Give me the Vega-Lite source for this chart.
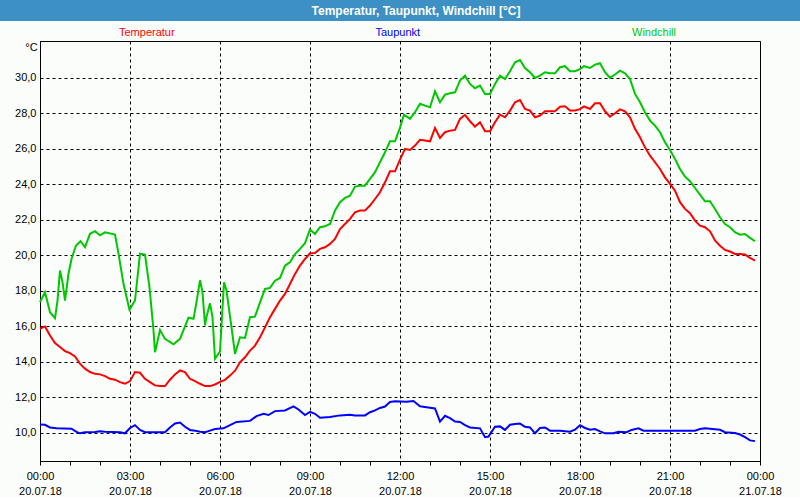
{
  "$schema": "https://vega.github.io/schema/vega-lite/v6.json",
  "padding": 0,
  "background": "#fbfdfb",
  "spacing": 19,
  "config": {"view": {"stroke": null}, "font": "Liberation Sans"},
  "datasets": {
    "wetter": [
      {"t":"2018-07-20T00:00","s":"Temperatur","v":15.87},{"t":"2018-07-20T00:10","s":"Temperatur","v":16.0},{"t":"2018-07-20T00:20","s":"Temperatur","v":15.49},{"t":"2018-07-20T00:30","s":"Temperatur","v":15.06},{"t":"2018-07-20T00:40","s":"Temperatur","v":14.84},{"t":"2018-07-20T00:50","s":"Temperatur","v":14.61},{"t":"2018-07-20T01:00","s":"Temperatur","v":14.5},{"t":"2018-07-20T01:10","s":"Temperatur","v":14.31},{"t":"2018-07-20T01:20","s":"Temperatur","v":13.9},{"t":"2018-07-20T01:30","s":"Temperatur","v":13.62},{"t":"2018-07-20T01:40","s":"Temperatur","v":13.43},{"t":"2018-07-20T01:50","s":"Temperatur","v":13.33},{"t":"2018-07-20T02:00","s":"Temperatur","v":13.3},{"t":"2018-07-20T02:10","s":"Temperatur","v":13.2},{"t":"2018-07-20T02:20","s":"Temperatur","v":13.05},{"t":"2018-07-20T02:30","s":"Temperatur","v":13.0},{"t":"2018-07-20T02:40","s":"Temperatur","v":12.86},{"t":"2018-07-20T02:50","s":"Temperatur","v":12.77},{"t":"2018-07-20T03:00","s":"Temperatur","v":12.92},{"t":"2018-07-20T03:10","s":"Temperatur","v":13.43},{"t":"2018-07-20T03:20","s":"Temperatur","v":13.39},{"t":"2018-07-20T03:30","s":"Temperatur","v":13.05},{"t":"2018-07-20T03:40","s":"Temperatur","v":12.86},{"t":"2018-07-20T03:50","s":"Temperatur","v":12.68},{"t":"2018-07-20T04:00","s":"Temperatur","v":12.64},{"t":"2018-07-20T04:10","s":"Temperatur","v":12.64},{"t":"2018-07-20T04:20","s":"Temperatur","v":13.0},{"t":"2018-07-20T04:30","s":"Temperatur","v":13.3},{"t":"2018-07-20T04:40","s":"Temperatur","v":13.52},{"t":"2018-07-20T04:50","s":"Temperatur","v":13.43},{"t":"2018-07-20T05:00","s":"Temperatur","v":13.05},{"t":"2018-07-20T05:10","s":"Temperatur","v":12.92},{"t":"2018-07-20T05:20","s":"Temperatur","v":12.77},{"t":"2018-07-20T05:30","s":"Temperatur","v":12.64},{"t":"2018-07-20T05:40","s":"Temperatur","v":12.64},{"t":"2018-07-20T05:50","s":"Temperatur","v":12.73},{"t":"2018-07-20T06:00","s":"Temperatur","v":12.88},{"t":"2018-07-20T06:10","s":"Temperatur","v":12.99},{"t":"2018-07-20T06:20","s":"Temperatur","v":13.23},{"t":"2018-07-20T06:30","s":"Temperatur","v":13.51},{"t":"2018-07-20T06:40","s":"Temperatur","v":13.98},{"t":"2018-07-20T06:50","s":"Temperatur","v":14.26},{"t":"2018-07-20T07:00","s":"Temperatur","v":14.64},{"t":"2018-07-20T07:10","s":"Temperatur","v":14.92},{"t":"2018-07-20T07:20","s":"Temperatur","v":15.39},{"t":"2018-07-20T07:30","s":"Temperatur","v":15.95},{"t":"2018-07-20T07:40","s":"Temperatur","v":16.52},{"t":"2018-07-20T07:50","s":"Temperatur","v":16.99},{"t":"2018-07-20T08:00","s":"Temperatur","v":17.46},{"t":"2018-07-20T08:10","s":"Temperatur","v":17.83},{"t":"2018-07-20T08:20","s":"Temperatur","v":18.39},{"t":"2018-07-20T08:30","s":"Temperatur","v":18.96},{"t":"2018-07-20T08:40","s":"Temperatur","v":19.43},{"t":"2018-07-20T08:50","s":"Temperatur","v":19.8},{"t":"2018-07-20T09:00","s":"Temperatur","v":20.12},{"t":"2018-07-20T09:10","s":"Temperatur","v":20.14},{"t":"2018-07-20T09:20","s":"Temperatur","v":20.37},{"t":"2018-07-20T09:30","s":"Temperatur","v":20.46},{"t":"2018-07-20T09:40","s":"Temperatur","v":20.65},{"t":"2018-07-20T09:50","s":"Temperatur","v":20.93},{"t":"2018-07-20T10:00","s":"Temperatur","v":21.49},{"t":"2018-07-20T10:10","s":"Temperatur","v":21.77},{"t":"2018-07-20T10:20","s":"Temperatur","v":22.06},{"t":"2018-07-20T10:30","s":"Temperatur","v":22.43},{"t":"2018-07-20T10:40","s":"Temperatur","v":22.53},{"t":"2018-07-20T10:50","s":"Temperatur","v":22.53},{"t":"2018-07-20T11:00","s":"Temperatur","v":22.81},{"t":"2018-07-20T11:10","s":"Temperatur","v":23.18},{"t":"2018-07-20T11:20","s":"Temperatur","v":23.56},{"t":"2018-07-20T11:30","s":"Temperatur","v":24.12},{"t":"2018-07-20T11:40","s":"Temperatur","v":24.74},{"t":"2018-07-20T11:50","s":"Temperatur","v":24.74},{"t":"2018-07-20T12:00","s":"Temperatur","v":25.4},{"t":"2018-07-20T12:10","s":"Temperatur","v":26.0},{"t":"2018-07-20T12:20","s":"Temperatur","v":25.94},{"t":"2018-07-20T12:30","s":"Temperatur","v":26.19},{"t":"2018-07-20T12:40","s":"Temperatur","v":26.51},{"t":"2018-07-20T12:50","s":"Temperatur","v":26.47},{"t":"2018-07-20T13:00","s":"Temperatur","v":26.43},{"t":"2018-07-20T13:10","s":"Temperatur","v":27.18},{"t":"2018-07-20T13:20","s":"Temperatur","v":26.62},{"t":"2018-07-20T13:30","s":"Temperatur","v":26.94},{"t":"2018-07-20T13:40","s":"Temperatur","v":27.03},{"t":"2018-07-20T13:50","s":"Temperatur","v":27.07},{"t":"2018-07-20T14:00","s":"Temperatur","v":27.69},{"t":"2018-07-20T14:10","s":"Temperatur","v":27.92},{"t":"2018-07-20T14:20","s":"Temperatur","v":27.56},{"t":"2018-07-20T14:30","s":"Temperatur","v":27.26},{"t":"2018-07-20T14:40","s":"Temperatur","v":27.5},{"t":"2018-07-20T14:50","s":"Temperatur","v":27.0},{"t":"2018-07-20T15:00","s":"Temperatur","v":27.0},{"t":"2018-07-20T15:10","s":"Temperatur","v":27.5},{"t":"2018-07-20T15:20","s":"Temperatur","v":27.93},{"t":"2018-07-20T15:30","s":"Temperatur","v":27.78},{"t":"2018-07-20T15:40","s":"Temperatur","v":28.16},{"t":"2018-07-20T15:50","s":"Temperatur","v":28.63},{"t":"2018-07-20T16:00","s":"Temperatur","v":28.76},{"t":"2018-07-20T16:10","s":"Temperatur","v":28.25},{"t":"2018-07-20T16:20","s":"Temperatur","v":28.16},{"t":"2018-07-20T16:30","s":"Temperatur","v":27.78},{"t":"2018-07-20T16:40","s":"Temperatur","v":27.88},{"t":"2018-07-20T16:50","s":"Temperatur","v":28.12},{"t":"2018-07-20T17:00","s":"Temperatur","v":28.12},{"t":"2018-07-20T17:10","s":"Temperatur","v":28.12},{"t":"2018-07-20T17:20","s":"Temperatur","v":28.38},{"t":"2018-07-20T17:30","s":"Temperatur","v":28.4},{"t":"2018-07-20T17:40","s":"Temperatur","v":28.16},{"t":"2018-07-20T17:50","s":"Temperatur","v":28.16},{"t":"2018-07-20T18:00","s":"Temperatur","v":28.24},{"t":"2018-07-20T18:08","s":"Temperatur","v":28.4},{"t":"2018-07-20T18:20","s":"Temperatur","v":28.25},{"t":"2018-07-20T18:30","s":"Temperatur","v":28.57},{"t":"2018-07-20T18:40","s":"Temperatur","v":28.57},{"t":"2018-07-20T18:50","s":"Temperatur","v":28.12},{"t":"2018-07-20T19:00","s":"Temperatur","v":27.82},{"t":"2018-07-20T19:10","s":"Temperatur","v":28.01},{"t":"2018-07-20T19:20","s":"Temperatur","v":28.23},{"t":"2018-07-20T19:30","s":"Temperatur","v":28.12},{"t":"2018-07-20T19:40","s":"Temperatur","v":27.78},{"t":"2018-07-20T19:50","s":"Temperatur","v":27.13},{"t":"2018-07-20T20:00","s":"Temperatur","v":26.66},{"t":"2018-07-20T20:10","s":"Temperatur","v":26.09},{"t":"2018-07-20T20:20","s":"Temperatur","v":25.62},{"t":"2018-07-20T20:30","s":"Temperatur","v":25.25},{"t":"2018-07-20T20:40","s":"Temperatur","v":24.87},{"t":"2018-07-20T20:50","s":"Temperatur","v":24.4},{"t":"2018-07-20T21:00","s":"Temperatur","v":24.03},{"t":"2018-07-20T21:10","s":"Temperatur","v":23.65},{"t":"2018-07-20T21:20","s":"Temperatur","v":23.0},{"t":"2018-07-20T21:30","s":"Temperatur","v":22.62},{"t":"2018-07-20T21:40","s":"Temperatur","v":22.38},{"t":"2018-07-20T21:50","s":"Temperatur","v":21.96},{"t":"2018-07-20T22:00","s":"Temperatur","v":21.68},{"t":"2018-07-20T22:10","s":"Temperatur","v":21.59},{"t":"2018-07-20T22:20","s":"Temperatur","v":21.36},{"t":"2018-07-20T22:30","s":"Temperatur","v":20.84},{"t":"2018-07-20T22:40","s":"Temperatur","v":20.55},{"t":"2018-07-20T22:50","s":"Temperatur","v":20.31},{"t":"2018-07-20T23:00","s":"Temperatur","v":20.22},{"t":"2018-07-20T23:10","s":"Temperatur","v":20.08},{"t":"2018-07-20T23:20","s":"Temperatur","v":20.08},{"t":"2018-07-20T23:30","s":"Temperatur","v":20.05},{"t":"2018-07-20T23:40","s":"Temperatur","v":19.86},{"t":"2018-07-20T23:50","s":"Temperatur","v":19.71},
      {"t":"2018-07-20T00:00","s":"Windchill","v":17.37},{"t":"2018-07-20T00:10","s":"Windchill","v":17.93},{"t":"2018-07-20T00:20","s":"Windchill","v":16.8},{"t":"2018-07-20T00:30","s":"Windchill","v":16.47},{"t":"2018-07-20T00:35","s":"Windchill","v":17.46},{"t":"2018-07-20T00:40","s":"Windchill","v":19.15},{"t":"2018-07-20T00:45","s":"Windchill","v":18.5},{"t":"2018-07-20T00:50","s":"Windchill","v":17.46},{"t":"2018-07-20T00:57","s":"Windchill","v":18.97},{"t":"2018-07-20T01:03","s":"Windchill","v":19.8},{"t":"2018-07-20T01:12","s":"Windchill","v":20.56},{"t":"2018-07-20T01:21","s":"Windchill","v":20.8},{"t":"2018-07-20T01:30","s":"Windchill","v":20.47},{"t":"2018-07-20T01:40","s":"Windchill","v":21.22},{"t":"2018-07-20T01:50","s":"Windchill","v":21.37},{"t":"2018-07-20T02:00","s":"Windchill","v":21.13},{"t":"2018-07-20T02:10","s":"Windchill","v":21.3},{"t":"2018-07-20T02:30","s":"Windchill","v":21.18},{"t":"2018-07-20T02:37","s":"Windchill","v":20.1},{"t":"2018-07-20T02:47","s":"Windchill","v":18.4},{"t":"2018-07-20T02:59","s":"Windchill","v":16.94},{"t":"2018-07-20T03:10","s":"Windchill","v":17.46},{"t":"2018-07-20T03:20","s":"Windchill","v":20.1},{"t":"2018-07-20T03:30","s":"Windchill","v":20.05},{"t":"2018-07-20T03:39","s":"Windchill","v":18.2},{"t":"2018-07-20T03:47","s":"Windchill","v":15.77},{"t":"2018-07-20T03:50","s":"Windchill","v":14.55},{"t":"2018-07-20T04:00","s":"Windchill","v":15.8},{"t":"2018-07-20T04:10","s":"Windchill","v":15.3},{"t":"2018-07-20T04:27","s":"Windchill","v":14.99},{"t":"2018-07-20T04:40","s":"Windchill","v":15.3},{"t":"2018-07-20T04:57","s":"Windchill","v":16.49},{"t":"2018-07-20T05:07","s":"Windchill","v":16.43},{"t":"2018-07-20T05:13","s":"Windchill","v":17.37},{"t":"2018-07-20T05:20","s":"Windchill","v":18.6},{"t":"2018-07-20T05:25","s":"Windchill","v":17.93},{"t":"2018-07-20T05:30","s":"Windchill","v":16.06},{"t":"2018-07-20T05:33","s":"Windchill","v":16.53},{"t":"2018-07-20T05:40","s":"Windchill","v":17.3},{"t":"2018-07-20T05:45","s":"Windchill","v":16.53},{"t":"2018-07-20T05:50","s":"Windchill","v":14.18},{"t":"2018-07-20T06:00","s":"Windchill","v":14.6},{"t":"2018-07-20T06:08","s":"Windchill","v":18.49},{"t":"2018-07-20T06:13","s":"Windchill","v":18.02},{"t":"2018-07-20T06:23","s":"Windchill","v":15.95},{"t":"2018-07-20T06:30","s":"Windchill","v":14.45},{"t":"2018-07-20T06:40","s":"Windchill","v":15.39},{"t":"2018-07-20T06:50","s":"Windchill","v":15.35},{"t":"2018-07-20T07:00","s":"Windchill","v":16.52},{"t":"2018-07-20T07:10","s":"Windchill","v":16.55},{"t":"2018-07-20T07:20","s":"Windchill","v":17.36},{"t":"2018-07-20T07:30","s":"Windchill","v":18.11},{"t":"2018-07-20T07:40","s":"Windchill","v":18.17},{"t":"2018-07-20T07:50","s":"Windchill","v":18.58},{"t":"2018-07-20T08:00","s":"Windchill","v":18.73},{"t":"2018-07-20T08:10","s":"Windchill","v":19.43},{"t":"2018-07-20T08:20","s":"Windchill","v":19.62},{"t":"2018-07-20T08:30","s":"Windchill","v":20.08},{"t":"2018-07-20T08:40","s":"Windchill","v":20.37},{"t":"2018-07-20T08:50","s":"Windchill","v":20.69},{"t":"2018-07-20T09:00","s":"Windchill","v":21.46},{"t":"2018-07-20T09:10","s":"Windchill","v":21.21},{"t":"2018-07-20T09:20","s":"Windchill","v":21.59},{"t":"2018-07-20T09:30","s":"Windchill","v":21.64},{"t":"2018-07-20T09:40","s":"Windchill","v":21.77},{"t":"2018-07-20T09:50","s":"Windchill","v":22.53},{"t":"2018-07-20T10:00","s":"Windchill","v":23.0},{"t":"2018-07-20T10:10","s":"Windchill","v":23.24},{"t":"2018-07-20T10:20","s":"Windchill","v":23.37},{"t":"2018-07-20T10:30","s":"Windchill","v":23.88},{"t":"2018-07-20T10:40","s":"Windchill","v":23.93},{"t":"2018-07-20T10:50","s":"Windchill","v":23.93},{"t":"2018-07-20T11:00","s":"Windchill","v":24.31},{"t":"2018-07-20T11:10","s":"Windchill","v":24.69},{"t":"2018-07-20T11:20","s":"Windchill","v":25.25},{"t":"2018-07-20T11:30","s":"Windchill","v":25.81},{"t":"2018-07-20T11:40","s":"Windchill","v":26.43},{"t":"2018-07-20T11:50","s":"Windchill","v":26.43},{"t":"2018-07-20T12:00","s":"Windchill","v":27.2},{"t":"2018-07-20T12:08","s":"Windchill","v":27.93},{"t":"2018-07-20T12:20","s":"Windchill","v":27.69},{"t":"2018-07-20T12:30","s":"Windchill","v":28.07},{"t":"2018-07-20T12:40","s":"Windchill","v":28.54},{"t":"2018-07-20T12:50","s":"Windchill","v":28.44},{"t":"2018-07-20T13:00","s":"Windchill","v":28.35},{"t":"2018-07-20T13:10","s":"Windchill","v":29.25},{"t":"2018-07-20T13:20","s":"Windchill","v":28.63},{"t":"2018-07-20T13:30","s":"Windchill","v":29.06},{"t":"2018-07-20T13:40","s":"Windchill","v":29.14},{"t":"2018-07-20T13:50","s":"Windchill","v":29.19},{"t":"2018-07-20T14:00","s":"Windchill","v":29.85},{"t":"2018-07-20T14:10","s":"Windchill","v":30.13},{"t":"2018-07-20T14:20","s":"Windchill","v":29.66},{"t":"2018-07-20T14:30","s":"Windchill","v":29.42},{"t":"2018-07-20T14:40","s":"Windchill","v":29.57},{"t":"2018-07-20T14:50","s":"Windchill","v":29.1},{"t":"2018-07-20T15:00","s":"Windchill","v":29.1},{"t":"2018-07-20T15:10","s":"Windchill","v":29.66},{"t":"2018-07-20T15:20","s":"Windchill","v":30.13},{"t":"2018-07-20T15:30","s":"Windchill","v":29.94},{"t":"2018-07-20T15:40","s":"Windchill","v":30.38},{"t":"2018-07-20T15:50","s":"Windchill","v":30.88},{"t":"2018-07-20T16:00","s":"Windchill","v":31.01},{"t":"2018-07-20T16:10","s":"Windchill","v":30.56},{"t":"2018-07-20T16:20","s":"Windchill","v":30.32},{"t":"2018-07-20T16:30","s":"Windchill","v":30.0},{"t":"2018-07-20T16:40","s":"Windchill","v":30.13},{"t":"2018-07-20T16:50","s":"Windchill","v":30.32},{"t":"2018-07-20T17:00","s":"Windchill","v":30.26},{"t":"2018-07-20T17:10","s":"Windchill","v":30.26},{"t":"2018-07-20T17:20","s":"Windchill","v":30.6},{"t":"2018-07-20T17:30","s":"Windchill","v":30.66},{"t":"2018-07-20T17:40","s":"Windchill","v":30.38},{"t":"2018-07-20T17:50","s":"Windchill","v":30.38},{"t":"2018-07-20T18:00","s":"Windchill","v":30.5},{"t":"2018-07-20T18:08","s":"Windchill","v":30.66},{"t":"2018-07-20T18:20","s":"Windchill","v":30.56},{"t":"2018-07-20T18:30","s":"Windchill","v":30.75},{"t":"2018-07-20T18:40","s":"Windchill","v":30.83},{"t":"2018-07-20T18:50","s":"Windchill","v":30.32},{"t":"2018-07-20T19:00","s":"Windchill","v":30.0},{"t":"2018-07-20T19:10","s":"Windchill","v":30.19},{"t":"2018-07-20T19:20","s":"Windchill","v":30.41},{"t":"2018-07-20T19:30","s":"Windchill","v":30.26},{"t":"2018-07-20T19:40","s":"Windchill","v":29.94},{"t":"2018-07-20T19:50","s":"Windchill","v":29.1},{"t":"2018-07-20T20:00","s":"Windchill","v":28.63},{"t":"2018-07-20T20:10","s":"Windchill","v":28.07},{"t":"2018-07-20T20:20","s":"Windchill","v":27.6},{"t":"2018-07-20T20:30","s":"Windchill","v":27.31},{"t":"2018-07-20T20:40","s":"Windchill","v":26.94},{"t":"2018-07-20T20:50","s":"Windchill","v":26.38},{"t":"2018-07-20T21:00","s":"Windchill","v":25.94},{"t":"2018-07-20T21:10","s":"Windchill","v":25.44},{"t":"2018-07-20T21:20","s":"Windchill","v":24.87},{"t":"2018-07-20T21:30","s":"Windchill","v":24.44},{"t":"2018-07-20T21:40","s":"Windchill","v":24.18},{"t":"2018-07-20T21:50","s":"Windchill","v":23.8},{"t":"2018-07-20T22:00","s":"Windchill","v":23.43},{"t":"2018-07-20T22:10","s":"Windchill","v":23.05},{"t":"2018-07-20T22:20","s":"Windchill","v":23.05},{"t":"2018-07-20T22:30","s":"Windchill","v":22.62},{"t":"2018-07-20T22:40","s":"Windchill","v":22.15},{"t":"2018-07-20T22:50","s":"Windchill","v":21.77},{"t":"2018-07-20T23:00","s":"Windchill","v":21.59},{"t":"2018-07-20T23:10","s":"Windchill","v":21.31},{"t":"2018-07-20T23:20","s":"Windchill","v":21.17},{"t":"2018-07-20T23:30","s":"Windchill","v":21.21},{"t":"2018-07-20T23:40","s":"Windchill","v":20.99},{"t":"2018-07-20T23:50","s":"Windchill","v":20.8},
      {"t":"2018-07-20T00:00","s":"Taupunkt","v":10.48},{"t":"2018-07-20T00:10","s":"Taupunkt","v":10.46},{"t":"2018-07-20T00:20","s":"Taupunkt","v":10.31},{"t":"2018-07-20T00:33","s":"Taupunkt","v":10.26},{"t":"2018-07-20T01:03","s":"Taupunkt","v":10.24},{"t":"2018-07-20T01:13","s":"Taupunkt","v":10.06},{"t":"2018-07-20T01:20","s":"Taupunkt","v":9.98},{"t":"2018-07-20T01:30","s":"Taupunkt","v":10.04},{"t":"2018-07-20T01:50","s":"Taupunkt","v":10.06},{"t":"2018-07-20T02:00","s":"Taupunkt","v":10.09},{"t":"2018-07-20T02:10","s":"Taupunkt","v":10.07},{"t":"2018-07-20T02:40","s":"Taupunkt","v":10.04},{"t":"2018-07-20T02:50","s":"Taupunkt","v":9.98},{"t":"2018-07-20T03:00","s":"Taupunkt","v":10.28},{"t":"2018-07-20T03:10","s":"Taupunkt","v":10.44},{"t":"2018-07-20T03:20","s":"Taupunkt","v":10.17},{"t":"2018-07-20T03:30","s":"Taupunkt","v":10.04},{"t":"2018-07-20T04:10","s":"Taupunkt","v":10.04},{"t":"2018-07-20T04:20","s":"Taupunkt","v":10.31},{"t":"2018-07-20T04:30","s":"Taupunkt","v":10.53},{"t":"2018-07-20T04:40","s":"Taupunkt","v":10.59},{"t":"2018-07-20T04:50","s":"Taupunkt","v":10.35},{"t":"2018-07-20T05:00","s":"Taupunkt","v":10.17},{"t":"2018-07-20T05:10","s":"Taupunkt","v":10.13},{"t":"2018-07-20T05:20","s":"Taupunkt","v":10.07},{"t":"2018-07-20T05:30","s":"Taupunkt","v":10.04},{"t":"2018-07-20T05:40","s":"Taupunkt","v":10.13},{"t":"2018-07-20T05:50","s":"Taupunkt","v":10.22},{"t":"2018-07-20T06:07","s":"Taupunkt","v":10.26},{"t":"2018-07-20T06:20","s":"Taupunkt","v":10.44},{"t":"2018-07-20T06:33","s":"Taupunkt","v":10.62},{"t":"2018-07-20T07:00","s":"Taupunkt","v":10.68},{"t":"2018-07-20T07:13","s":"Taupunkt","v":10.95},{"t":"2018-07-20T07:27","s":"Taupunkt","v":11.08},{"t":"2018-07-20T07:37","s":"Taupunkt","v":11.01},{"t":"2018-07-20T07:50","s":"Taupunkt","v":11.23},{"t":"2018-07-20T08:10","s":"Taupunkt","v":11.27},{"t":"2018-07-20T08:27","s":"Taupunkt","v":11.5},{"t":"2018-07-20T08:37","s":"Taupunkt","v":11.32},{"t":"2018-07-20T08:50","s":"Taupunkt","v":11.01},{"t":"2018-07-20T09:00","s":"Taupunkt","v":11.19},{"t":"2018-07-20T09:10","s":"Taupunkt","v":11.08},{"t":"2018-07-20T09:20","s":"Taupunkt","v":10.86},{"t":"2018-07-20T09:40","s":"Taupunkt","v":10.9},{"t":"2018-07-20T10:00","s":"Taupunkt","v":10.99},{"t":"2018-07-20T10:20","s":"Taupunkt","v":11.03},{"t":"2018-07-20T10:30","s":"Taupunkt","v":10.99},{"t":"2018-07-20T10:50","s":"Taupunkt","v":10.99},{"t":"2018-07-20T11:00","s":"Taupunkt","v":11.17},{"t":"2018-07-20T11:10","s":"Taupunkt","v":11.27},{"t":"2018-07-20T11:20","s":"Taupunkt","v":11.41},{"t":"2018-07-20T11:30","s":"Taupunkt","v":11.49},{"t":"2018-07-20T11:40","s":"Taupunkt","v":11.74},{"t":"2018-07-20T11:50","s":"Taupunkt","v":11.78},{"t":"2018-07-20T12:13","s":"Taupunkt","v":11.76},{"t":"2018-07-20T12:27","s":"Taupunkt","v":11.8},{"t":"2018-07-20T12:40","s":"Taupunkt","v":11.5},{"t":"2018-07-20T12:53","s":"Taupunkt","v":11.45},{"t":"2018-07-20T13:10","s":"Taupunkt","v":11.38},{"t":"2018-07-20T13:20","s":"Taupunkt","v":10.64},{"t":"2018-07-20T13:30","s":"Taupunkt","v":10.97},{"t":"2018-07-20T13:40","s":"Taupunkt","v":10.83},{"t":"2018-07-20T13:50","s":"Taupunkt","v":10.64},{"t":"2018-07-20T14:00","s":"Taupunkt","v":10.62},{"t":"2018-07-20T14:10","s":"Taupunkt","v":10.44},{"t":"2018-07-20T14:20","s":"Taupunkt","v":10.31},{"t":"2018-07-20T14:40","s":"Taupunkt","v":10.26},{"t":"2018-07-20T14:50","s":"Taupunkt","v":9.76},{"t":"2018-07-20T14:57","s":"Taupunkt","v":9.8},{"t":"2018-07-20T15:10","s":"Taupunkt","v":10.35},{"t":"2018-07-20T15:20","s":"Taupunkt","v":10.37},{"t":"2018-07-20T15:30","s":"Taupunkt","v":10.17},{"t":"2018-07-20T15:40","s":"Taupunkt","v":10.46},{"t":"2018-07-20T15:50","s":"Taupunkt","v":10.5},{"t":"2018-07-20T16:00","s":"Taupunkt","v":10.53},{"t":"2018-07-20T16:10","s":"Taupunkt","v":10.35},{"t":"2018-07-20T16:20","s":"Taupunkt","v":10.31},{"t":"2018-07-20T16:30","s":"Taupunkt","v":9.98},{"t":"2018-07-20T16:40","s":"Taupunkt","v":10.28},{"t":"2018-07-20T16:50","s":"Taupunkt","v":10.31},{"t":"2018-07-20T17:00","s":"Taupunkt","v":10.13},{"t":"2018-07-20T17:20","s":"Taupunkt","v":10.13},{"t":"2018-07-20T17:40","s":"Taupunkt","v":10.07},{"t":"2018-07-20T17:50","s":"Taupunkt","v":10.18},{"t":"2018-07-20T18:00","s":"Taupunkt","v":10.44},{"t":"2018-07-20T18:10","s":"Taupunkt","v":10.28},{"t":"2018-07-20T18:20","s":"Taupunkt","v":10.18},{"t":"2018-07-20T18:30","s":"Taupunkt","v":10.22},{"t":"2018-07-20T18:40","s":"Taupunkt","v":10.09},{"t":"2018-07-20T18:50","s":"Taupunkt","v":9.98},{"t":"2018-07-20T19:07","s":"Taupunkt","v":9.98},{"t":"2018-07-20T19:17","s":"Taupunkt","v":10.07},{"t":"2018-07-20T19:33","s":"Taupunkt","v":10.04},{"t":"2018-07-20T19:43","s":"Taupunkt","v":10.17},{"t":"2018-07-20T19:57","s":"Taupunkt","v":10.26},{"t":"2018-07-20T20:07","s":"Taupunkt","v":10.13},{"t":"2018-07-20T20:30","s":"Taupunkt","v":10.13},{"t":"2018-07-20T21:50","s":"Taupunkt","v":10.13},{"t":"2018-07-20T22:00","s":"Taupunkt","v":10.22},{"t":"2018-07-20T22:10","s":"Taupunkt","v":10.26},{"t":"2018-07-20T22:40","s":"Taupunkt","v":10.18},{"t":"2018-07-20T22:50","s":"Taupunkt","v":10.04},{"t":"2018-07-20T23:10","s":"Taupunkt","v":10.0},{"t":"2018-07-20T23:20","s":"Taupunkt","v":9.91},{"t":"2018-07-20T23:30","s":"Taupunkt","v":9.76},{"t":"2018-07-20T23:40","s":"Taupunkt","v":9.58},{"t":"2018-07-20T23:50","s":"Taupunkt","v":9.54}
    ]
  },
  "vconcat": [
    {
      "width": 800,
      "height": 21,
      "view": {"fill": "#3d90c4", "stroke": null},
      "data": {"values": [{"titel": "Temperatur, Taupunkt, Windchill [°C]"}]},
      "mark": {"type": "text", "font": "Liberation Sans", "fontWeight": "bold", "fontSize": 12, "color": "#ffffff", "dx": 16, "align": "center", "baseline": "middle"},
      "encoding": {"text": {"field": "titel", "type": "nominal"}}
    },
    {
      "spacing": 0,
      "hconcat": [
        {
          "width": 14,
          "height": 1,
          "view": {"stroke": null},
          "data": {"values": []},
          "mark": "point",
          "encoding": {}
        },
        {
          "width": 720,
          "height": 420,
          "view": {"stroke": "#000000", "strokeWidth": 1},
          "data": {"name": "wetter"},
          "mark": {"type": "line", "strokeWidth": 2},
          "encoding": {
            "x": {
              "field": "t",
              "type": "temporal",
              "title": null,
              "scale": {"domain": [{"year": 2018, "month": 7, "date": 20, "hours": 0}, {"year": 2018, "month": 7, "date": 21, "hours": 0}], "nice": false},
              "axis": {
                "tickCount": 24,
                "labelExpr": "hours(datum.value) % 3 == 0 ? [timeFormat(datum.value, '%H:%M'), timeFormat(datum.value, '%d.%m.%y')] : ''",
                "grid": true,
                "gridColor": "#000000",
                "gridDash": [3, 3],
                "gridOpacity": {"condition": {"test": "hours(datum.value) % 3 != 0", "value": 0}, "value": 1},
                "tickColor": "#000000",
                "tickSize": 4,
                "domainColor": "#000000",
                "labelColor": "#000000",
                "labelFont": "Liberation Sans",
                "labelFontSize": 11,
                "labelPadding": 5,
                "labelBaseline": "top",
                "labelLineHeight": 15,
                "labelOverlap": false,
                "labelFlush": false,
                "labelBound": false
              }
            },
            "y": {
              "field": "v",
              "type": "quantitative",
              "title": "°C",
              "scale": {"domain": [8.42, 32.08], "nice": false, "zero": false},
              "axis": {
                "values": [10, 12, 14, 16, 18, 20, 22, 24, 26, 28, 30],
                "labelExpr": "replace(format(datum.value, '.1f'), '.', ',')",
                "ticks": false,
                "grid": true,
                "gridColor": "#000000",
                "gridDash": [3, 3],
                "domainColor": "#000000",
                "labelColor": "#000000",
                "labelFont": "Liberation Sans",
                "labelFontSize": 11,
                "labelPadding": 4,
                "titleAngle": 0,
                "titleX": -9,
                "titleY": 6,
                "titleAlign": "center",
                "titleBaseline": "middle",
                "titleFont": "Liberation Sans",
                "titleFontSize": 11,
                "titleFontWeight": "normal",
                "titleColor": "#000000"
              }
            },
            "color": {
              "field": "s",
              "type": "nominal",
              "scale": {"domain": ["Temperatur", "Taupunkt", "Windchill"], "range": ["#ff0000", "#0000ff", "#00c800"]},
              "legend": {
                "orient": "none",
                "legendX": 108,
                "legendY": 27,
                "direction": "horizontal",
                "title": null,
                "symbolOpacity": 0,
                "symbolSize": 0,
                "labelOffset": 0,
                "gridAlign": "all",
                "columnPadding": 189.5,
                "labelFont": "Liberation Sans",
                "labelFontSize": 11,
                "encode": {"labels": {"update": {"fill": {"scale": "color", "field": "value"}}}}
              }
            }
          }
        }
      ]
    }
  ]
}
